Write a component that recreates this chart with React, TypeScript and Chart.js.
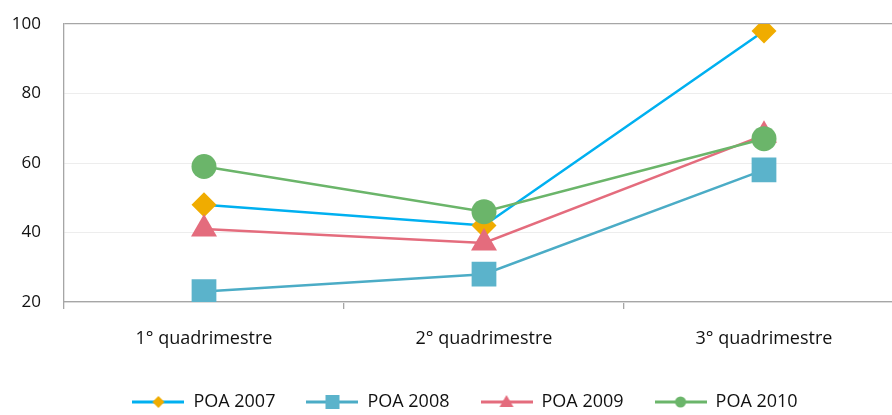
import React, { useEffect, useRef } from "react";
import { Chart, registerables } from "chart.js";

Chart.register(...registerables);

const categories = ["1° quadrimestre", "2° quadrimestre", "3° quadrimestre"];
const seriesNames = ["POA 2007", "POA 2008", "POA 2009", "POA 2010"];
const poa2007 = [48, 42, 98];
const poa2008 = [23, 28, 58];
const poa2009 = [41, 37, 68];
const poa2010 = [59, 46, 67];
const yTicks = [20, 40, 60, 80, 100];

const lineColors = ["#00B0F0", "#4BACC6", "#E46C7D", "#6BB56A"];
const markerColors = ["#F0AC00", "#5BB3CB", "#E46C7D", "#6BB56A"];
const markerStyles = ["rectRot", "rect", "triangle", "circle"];
const markerRadius = [12.5, 17.5, 15, 12.5];

const FONT = "'Open Sans', sans-serif";
const CANVAS_W = 946;
const CANVAS_H = 421;

function makeLegendImage(i: number): HTMLCanvasElement {
  const c = document.createElement("canvas");
  c.width = 52;
  c.height = 20;
  const ctx = c.getContext("2d")!;
  const cy = 10;
  const cx = 26;
  ctx.strokeStyle = lineColors[i];
  ctx.lineWidth = 3;
  ctx.beginPath();
  ctx.moveTo(0, cy);
  ctx.lineTo(52, cy);
  ctx.stroke();
  ctx.fillStyle = markerColors[i];
  ctx.beginPath();
  const s = markerStyles[i];
  if (s === "rectRot") {
    const r = 6;
    ctx.moveTo(cx, cy - r);
    ctx.lineTo(cx + r, cy);
    ctx.lineTo(cx, cy + r);
    ctx.lineTo(cx - r, cy);
    ctx.closePath();
  } else if (s === "rect") {
    ctx.rect(cx - 7, cy - 7, 14, 14);
  } else if (s === "triangle") {
    ctx.moveTo(cx, cy - 7);
    ctx.lineTo(cx + 7, cy + 5);
    ctx.lineTo(cx - 7, cy + 5);
    ctx.closePath();
  } else {
    ctx.arc(cx, cy, 5.5, 0, Math.PI * 2);
  }
  ctx.fill();
  return c;
}

const shiftLegend = {
  id: "shiftLegend",
  afterLayout(chart: any) {
    const lg = chart.legend;
    if (lg) {
      lg.left += 13;
      lg.right += 13;
    }
  },
};

export default function App() {
  const ref = useRef<HTMLCanvasElement | null>(null);

  useEffect(() => {
    if (!ref.current) return;
    const values = [poa2007, poa2008, poa2009, poa2010];
    const images = seriesNames.map((_, i) => makeLegendImage(i));
    const chart = new Chart(ref.current, {
      type: "line",
      data: {
        labels: categories,
        datasets: seriesNames.map((name, i) => ({
          label: name,
          data: values[i],
          borderColor: lineColors[i],
          backgroundColor: markerColors[i],
          borderWidth: 2.5,
          pointStyle: markerStyles[i] as any,
          pointRadius: markerRadius[i],
          pointHoverRadius: markerRadius[i],
          pointBackgroundColor: markerColors[i],
          pointBorderColor: markerColors[i],
          pointBorderWidth: 0,
          tension: 0,
          order: 4 - i,
        })),
      },
      plugins: [shiftLegend],
      options: {
        responsive: false,
        maintainAspectRatio: false,
        animation: false,
        devicePixelRatio: 1,
        layout: { padding: { top: 24, right: 42, left: 0, bottom: 0 } },
        plugins: {
          tooltip: { enabled: false },
          legend: {
            position: "bottom",
            labels: {
              usePointStyle: true,
              pointStyleWidth: 52,
              padding: 31,
              color: "#111",
              font: { family: FONT, size: 18 },
              generateLabels: (ch: any) => {
                const base = Chart.defaults.plugins.legend.labels.generateLabels(ch);
                return base
                  .sort((a: any, b: any) => a.datasetIndex - b.datasetIndex)
                  .map((l: any) => ({ ...l, pointStyle: images[l.datasetIndex] }));
              },
            },
          },
        },
        scales: {
          x: {
            offset: true,
            afterFit: (axis: any) => {
              axis.height = 60;
            },
            grid: {
              offset: true,
              drawOnChartArea: false,
              drawTicks: true,
              tickLength: 7,
              color: "#A6A6A6",
              lineWidth: 1.3,
            },
            border: { color: "#A6A6A6", width: 1.3 },
            ticks: {
              color: "#111",
              font: { family: FONT, size: 18 },
              padding: 19,
              maxRotation: 0,
            },
          },
          y: {
            min: 20,
            max: 100,
            afterFit: (axis: any) => {
              axis.width = 64;
            },
            afterBuildTicks: (axis: any) => {
              axis.ticks = yTicks.map((v) => ({ value: v }));
            },
            grid: {
              drawTicks: true,
              tickLength: 23,
              tickColor: "rgba(0,0,0,0)",
              color: (ctx: any) => (ctx.tick && ctx.tick.value === 100 ? "#A6A6A6" : "#EDEDED"),
              lineWidth: (ctx: any) => (ctx.tick && ctx.tick.value === 100 ? 1.3 : 1),
            },
            border: { color: "#A6A6A6", width: 1.3 },
            ticks: {
              color: "#111",
              font: { family: FONT, size: 17 },
              padding: 0,
            },
          },
        },
      },
    });
    return () => chart.destroy();
  }, []);

  return (
    <div
      style={{
        position: "fixed",
        left: 0,
        top: 0,
        width: 892,
        height: 415,
        overflow: "hidden",
        background: "#fff",
      }}
    >
      <div style={{ width: CANVAS_W, height: CANVAS_H }}>
        <canvas
          ref={ref}
          width={CANVAS_W}
          height={CANVAS_H}
          style={{ display: "block", width: CANVAS_W, height: CANVAS_H }}
        />
      </div>
    </div>
  );
}
